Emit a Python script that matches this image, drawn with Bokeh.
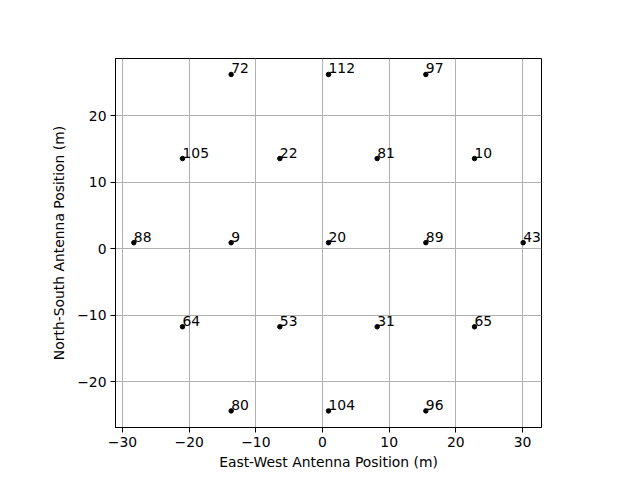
from bokeh.plotting import figure
from bokeh.models import ColumnDataSource, FixedTicker, Range1d, CustomJSTickFormatter
from bokeh.core.properties import value
from bokeh.embed import file_html
from bokeh.resources import INLINE

antenna_ids = ["72", "112", "97",
               "105", "22", "81", "10",
               "88", "9", "20", "89", "43",
               "64", "53", "31", "65",
               "80", "104", "96"]
east_west = [-13.7, 0.9, 15.5,
             -21.0, -6.4, 8.2, 22.8,
             -28.3, -13.7, 0.9, 15.5, 30.1,
             -21.0, -6.4, 8.2, 22.8,
             -13.7, 0.9, 15.5]
north_south = [26.2, 26.2, 26.2,
               13.55, 13.55, 13.55, 13.55,
               0.9, 0.9, 0.9, 0.9, 0.9,
               -11.75, -11.75, -11.75, -11.75,
               -24.4, -24.4, -24.4]
x_ticks = [-30, -20, -10, 0, 10, 20, 30]
y_ticks = [-20, -10, 0, 10, 20]

src = ColumnDataSource(dict(x=east_west, y=north_south, label=antenna_ids))

p = figure(width=640, height=480, output_backend="svg", toolbar_location=None,
           x_range=Range1d(-31.05, 32.85), y_range=Range1d(-26.9, 28.6),
           min_border_left=115, min_border_right=99, min_border_top=58,
           min_border_bottom=53)
p.background_fill_color = "white"
p.border_fill_color = "white"
p.outline_line_color = "black"
p.outline_line_width = 1

p.scatter("x", "y", source=src, size=4.5, color="black")
p.text("x", "y", text="label", source=src, text_font=value("DejaVu Sans"),
       text_font_size="13.9px", text_baseline="middle", text_align="left",
       y_offset=-6, text_color="black")

fmt = CustomJSTickFormatter(code="return tick.toString().replace('-', '\\u2212');")
for ax, ticks in ((p.xaxis[0], x_ticks), (p.yaxis[0], y_ticks)):
    ax.ticker = FixedTicker(ticks=ticks)
    ax.formatter = fmt
    ax.minor_tick_line_color = None
    ax.major_tick_out = 5
    ax.major_tick_in = 0
    ax.major_tick_line_color = "black"
    ax.axis_line_color = "black"
    ax.major_label_text_font = "DejaVu Sans"
    ax.major_label_text_font_size = "13.9px"
    ax.major_label_text_color = "black"
    ax.axis_label_text_font = "DejaVu Sans"
    ax.axis_label_text_font_size = "13.9px"
    ax.axis_label_text_font_style = "normal"
    ax.axis_label_text_color = "black"
    ax.major_label_standoff = 4

p.xaxis.axis_label = "East-West Antenna Position (m)"
p.yaxis.axis_label = "North-South Antenna Position (m)"
p.xaxis.axis_label_standoff = 4
p.yaxis.axis_label_standoff = 7

p.grid.grid_line_color = "#b0b0b0"
p.grid.grid_line_width = 1
p.xgrid.ticker = FixedTicker(ticks=x_ticks)
p.ygrid.ticker = FixedTicker(ticks=y_ticks)

open("out.html", "w").write(file_html(p, INLINE))
